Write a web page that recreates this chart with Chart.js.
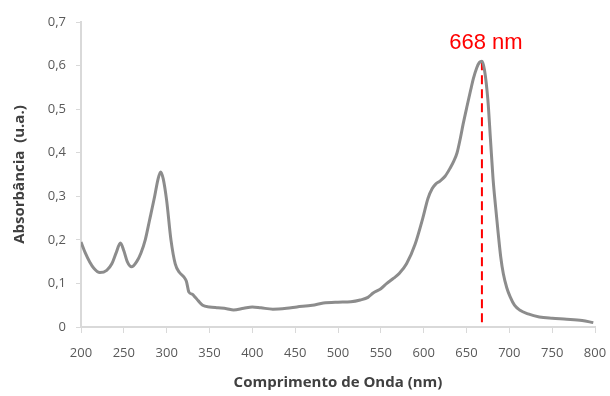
<!DOCTYPE html>
<html>
<head>
<meta charset="utf-8">
<script src="https://cdn.jsdelivr.net/npm/chart.js@4/dist/chart.umd.min.js"></script>
<style>
	html, body { margin: 0; padding: 0; background: #ffffff; }
	#wrap { width: 610px; height: 396px; }
</style>
</head>
<body>
<div id="wrap"><canvas id="Spectrum_Plot" width="610" height="396"></canvas></div>
<script>

// Absorption spectrum, wavelength (nm) vs absorbance (a.u.)
const wavelength = [200, 205, 210, 215, 222, 230, 236, 241, 246, 250, 254, 259, 265, 270, 275, 280, 286, 290, 293, 296,
	300, 305, 310, 315, 320, 323, 326, 330, 333, 337, 342, 350, 360, 370, 378, 390, 400, 410, 424, 440,
	452, 470, 483, 500, 515, 526, 535, 541, 550, 557, 565, 572, 580, 590, 599, 605, 610, 614, 619, 625,
	631, 635, 639, 643, 646, 651, 655, 658, 662, 665, 668, 671, 675, 678, 681, 684, 687, 690, 693, 697,
	701, 706, 712, 722, 735, 750, 767, 785, 798];
const absorbance = [0.195, 0.17, 0.15, 0.135, 0.125, 0.13, 0.145, 0.17, 0.193, 0.175, 0.15, 0.138, 0.15, 0.17, 0.2, 0.245, 0.3, 0.34, 0.356, 0.34,
	0.29, 0.2, 0.145, 0.125, 0.115, 0.105, 0.08, 0.075, 0.069, 0.06, 0.05, 0.046, 0.044, 0.042, 0.039, 0.043, 0.046, 0.044, 0.041, 0.043,
	0.046, 0.05, 0.055, 0.057, 0.058, 0.062, 0.068, 0.078, 0.088, 0.1, 0.112, 0.124, 0.145, 0.19, 0.25, 0.295, 0.318, 0.328, 0.335, 0.346,
	0.365, 0.38, 0.4, 0.435, 0.465, 0.51, 0.545, 0.57, 0.595, 0.607, 0.61, 0.59, 0.52, 0.43, 0.34, 0.275, 0.215, 0.16, 0.122, 0.09,
	0.069, 0.05, 0.039, 0.03, 0.023, 0.02, 0.018, 0.015, 0.01];

// Marked absorption maximum
const peak_wavelength = 668;
const peak_absorbance = 0.61;
const peak_label = '668 nm';

const x_min = 200, x_max = 800, x_step = 50;
const y_min = 0, y_max = 0.7, y_step = 0.1;

const spectrum_points = wavelength.map((w, i) => ({ x: w, y: absorbance[i] }));
const peak_points = [{ x: peak_wavelength, y: peak_absorbance }, { x: peak_wavelength, y: 0 }];

// Text above the dashed peak marker
const peakLabelPlugin = {
	id: 'peakLabel',
	afterDatasetsDraw(chart) {
		const ctx = chart.ctx;
		const px = chart.scales.x.getPixelForValue(peak_wavelength);
		const py = chart.scales.y.getPixelForValue(peak_absorbance);
		ctx.save();
		ctx.fillStyle = '#ff0000';
		ctx.font = '22px "Liberation Sans", Arial, sans-serif';
		ctx.textAlign = 'center';
		ctx.textBaseline = 'alphabetic';
		ctx.fillText(peak_label, px + 4, py - 12);
		ctx.restore();
	}
};

const tick_font = { family: '"Open Sans", sans-serif', size: 13 };
const title_font = { family: '"Open Sans", sans-serif', size: 15, weight: 'bold' };

const spectrum_plot = document.getElementById('Spectrum_Plot').getContext('2d');

var Spectrum_Plot_Obj = new Chart(spectrum_plot, {
	type: 'line',
	data: {
		datasets: [
			{
				// Measured spectrum
				data: spectrum_points,
				borderColor: '#8c8c8c',
				borderWidth: 3,
				pointRadius: 0,
				fill: false,
				tension: 0.4,
				cubicInterpolationMode: 'monotone',
			},
			{
				// Peak marker
				data: peak_points,
				borderColor: '#ff0000',
				borderWidth: 2,
				borderDash: [9, 5],
				pointRadius: 0,
				fill: false,
				tension: 0,
			}
		]
	},
	options: {
		responsive: false,
		animation: false,
		events: [],
		layout: { padding: { left: 0, right: 15, top: 22, bottom: 0 } },
		plugins: {
			legend: { display: false },
			tooltip: { enabled: false },
		},
		scales: {
			x: {
				type: 'linear',
				min: x_min,
				max: x_max,
				ticks: {
					stepSize: x_step,
					color: '#595959',
					font: tick_font,
					padding: 1,
					maxRotation: 0,
				},
				// long tick slot with a short dash, so labels sit low but marks stay small
				grid: { display: true, drawOnChartArea: false, drawTicks: true, tickLength: 17, tickBorderDash: [5, 40], color: '#d9d9d9' },
				border: { color: '#d9d9d9', width: 2 },
				title: { display: true, text: 'Comprimento de Onda (nm)', color: '#404040', font: title_font, padding: { top: 4, bottom: 4 } },
				afterFit(scale) { scale.height = 69; },
			},
			y: {
				min: y_min,
				max: y_max,
				ticks: {
					stepSize: y_step,
					color: '#595959',
					font: tick_font,
					padding: 10,
					callback: (v) => v === 0 ? '0' : v.toFixed(1).replace('.', ','),
				},
				grid: { display: true, drawOnChartArea: false, drawTicks: true, tickLength: 5, color: '#d9d9d9' },
				border: { color: '#d9d9d9', width: 2 },
				title: { display: true, text: 'Absorbância  (u.a.)', color: '#404040', font: title_font, padding: { top: 11, bottom: 4 } },
				afterFit(scale) { scale.width = 81; },
			}
		}
	},
	plugins: [peakLabelPlugin]
});

</script>
</body>
</html>
